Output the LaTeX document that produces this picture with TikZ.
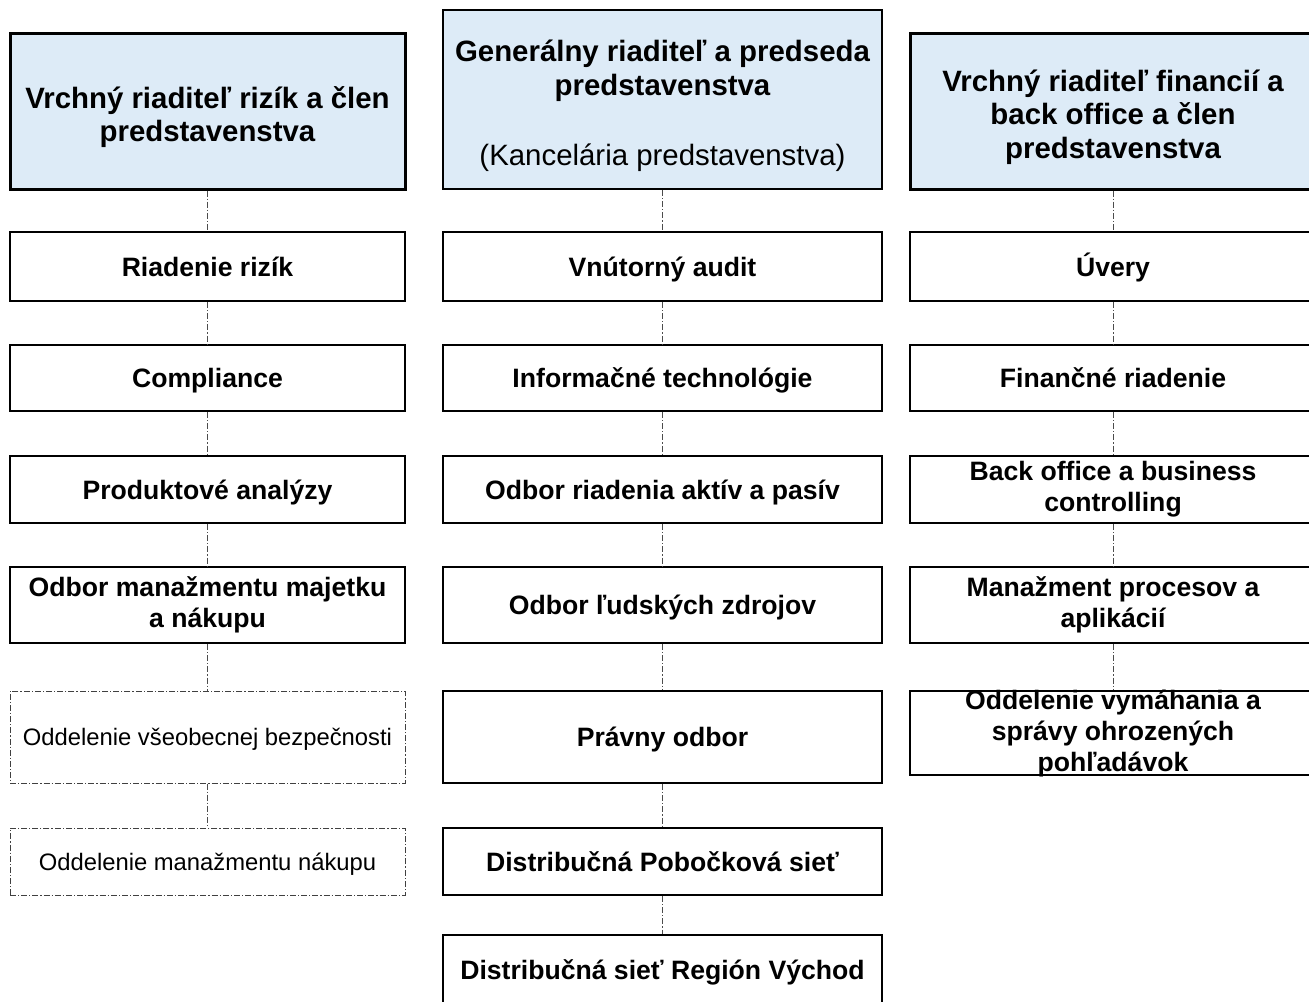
\documentclass[tikz,border=0pt]{standalone}
\usepackage{fontspec}
\setmainfont{Liberation Sans}
\definecolor{headblue}{RGB}{221,235,247}
\newcommand{\headpad}{\rule{0pt}{17pt}}
\tikzset{
  unit/.style={draw, line width=1pt, align=center, inner xsep=2pt, inner ysep=1pt,
    font=\bfseries\fontsize{13.3}{15.5}\selectfont},
  one/.style={text height=9.5pt, text depth=0pt},
  head/.style={unit, fill=headblue, font=\bfseries\fontsize{14.7}{16.8}\selectfont},
  sub/.style={draw=black!75, line width=0.5pt, align=center,
    dash pattern=on 3pt off 1pt on 0.6pt off 1pt,
    text height=8.5pt, text depth=0pt,
    font=\fontsize{11.9}{14}\selectfont},
  link/.style={draw=black!70, line width=0.5pt,
    dash pattern=on 3pt off 1pt on 0.6pt off 1pt},
  colL/.style={minimum width=197.5pt},
  colM/.style={minimum width=219.5pt},
  colR/.style={minimum width=203pt}
}
\begin{document}
\begin{tikzpicture}[x=0.5pt,y=-0.5pt]
\useasboundingbox (0,0) rectangle (1309,1001);
% top row
\node[head, colL, line width=1.5pt, minimum height=78pt] (L0) at (207.5,111)
  {\headpad Vrchný riaditeľ rizík a člen\\predstavenstva};
\node[head, colM, minimum height=89.5pt] (M0) at (662.5,99.5)
  {\headpad Generálny riaditeľ a predseda\\predstavenstva\\[18pt]{\mdseries (Kancelária predstavenstva)}};
\node[head, colR, line width=1.5pt, minimum height=78pt] (R0) at (1113,111)
  {\headpad Vrchný riaditeľ financií a\\back office a člen\\predstavenstva};
% left column
\node[unit, one, colL, minimum height=34.5pt] (L1) at (207.5,266.5) {Riadenie rizík};
\node[unit, one, colL, minimum height=33pt] (L2) at (207.5,378) {Compliance};
\node[unit, one, colL, minimum height=33.5pt] (L3) at (207.5,489.5) {Produktové analýzy};
\node[unit, colL, minimum height=38pt] (L4) at (207.5,605) {Odbor manažmentu majetku\\a nákupu};
\node[sub, colL, minimum height=46pt] (L5) at (207.5,737) {Oddelenie všeobecnej bezpečnosti};
\node[sub, colL, minimum height=33.5pt] (L6) at (207.5,861.5) {Oddelenie manažmentu nákupu};
% middle column
\node[unit, one, colM, minimum height=34.5pt] (M1) at (662.5,266.5) {Vnútorný audit};
\node[unit, one, colM, minimum height=33pt] (M2) at (662.5,378) {Informačné technológie};
\node[unit, one, colM, minimum height=33.5pt] (M3) at (662.5,489.5) {Odbor riadenia aktív a pasív};
\node[unit, one, colM, minimum height=38pt] (M4) at (662.5,605) {Odbor ľudských zdrojov};
\node[unit, one, colM, minimum height=46pt] (M5) at (662.5,737) {Právny odbor};
\node[unit, one, colM, minimum height=33.5pt] (M6) at (662.5,861.5) {Distribučná Pobočková sieť};
\node[unit, one, colM, minimum height=35pt] (M7) at (662.5,970) {Distribučná sieť Región Východ};
% right column
\node[unit, one, colR, minimum height=34.5pt] (R1) at (1113,266.5) {Úvery};
\node[unit, one, colR, minimum height=33pt] (R2) at (1113,378) {Finančné riadenie};
\node[unit, colR, minimum height=33.5pt] (R3) at (1113,489.5) {Back office a business\\controlling};
\node[unit, colR, minimum height=38pt] (R4) at (1113,605) {Manažment procesov a\\aplikácií};
% text runs over the box edge here, as in the original
\node[unit, colR, minimum height=42pt] (R5) at (1113,733)
  {\raisebox{-8pt}{\smash{\begin{tabular}{@{}c@{}}Oddelenie vymáhania a\\správy ohrozených\\pohľadávok\end{tabular}}}};
% connectors
\foreach \a/\b in {L0/L1,L1/L2,L2/L3,L3/L4,L4/L5,L5/L6,
                   M0/M1,M1/M2,M2/M3,M3/M4,M4/M5,M5/M6,M6/M7,
                   R0/R1,R1/R2,R2/R3,R3/R4,R4/R5}
  \draw[link] (\a) -- (\b);
\end{tikzpicture}
\end{document}
